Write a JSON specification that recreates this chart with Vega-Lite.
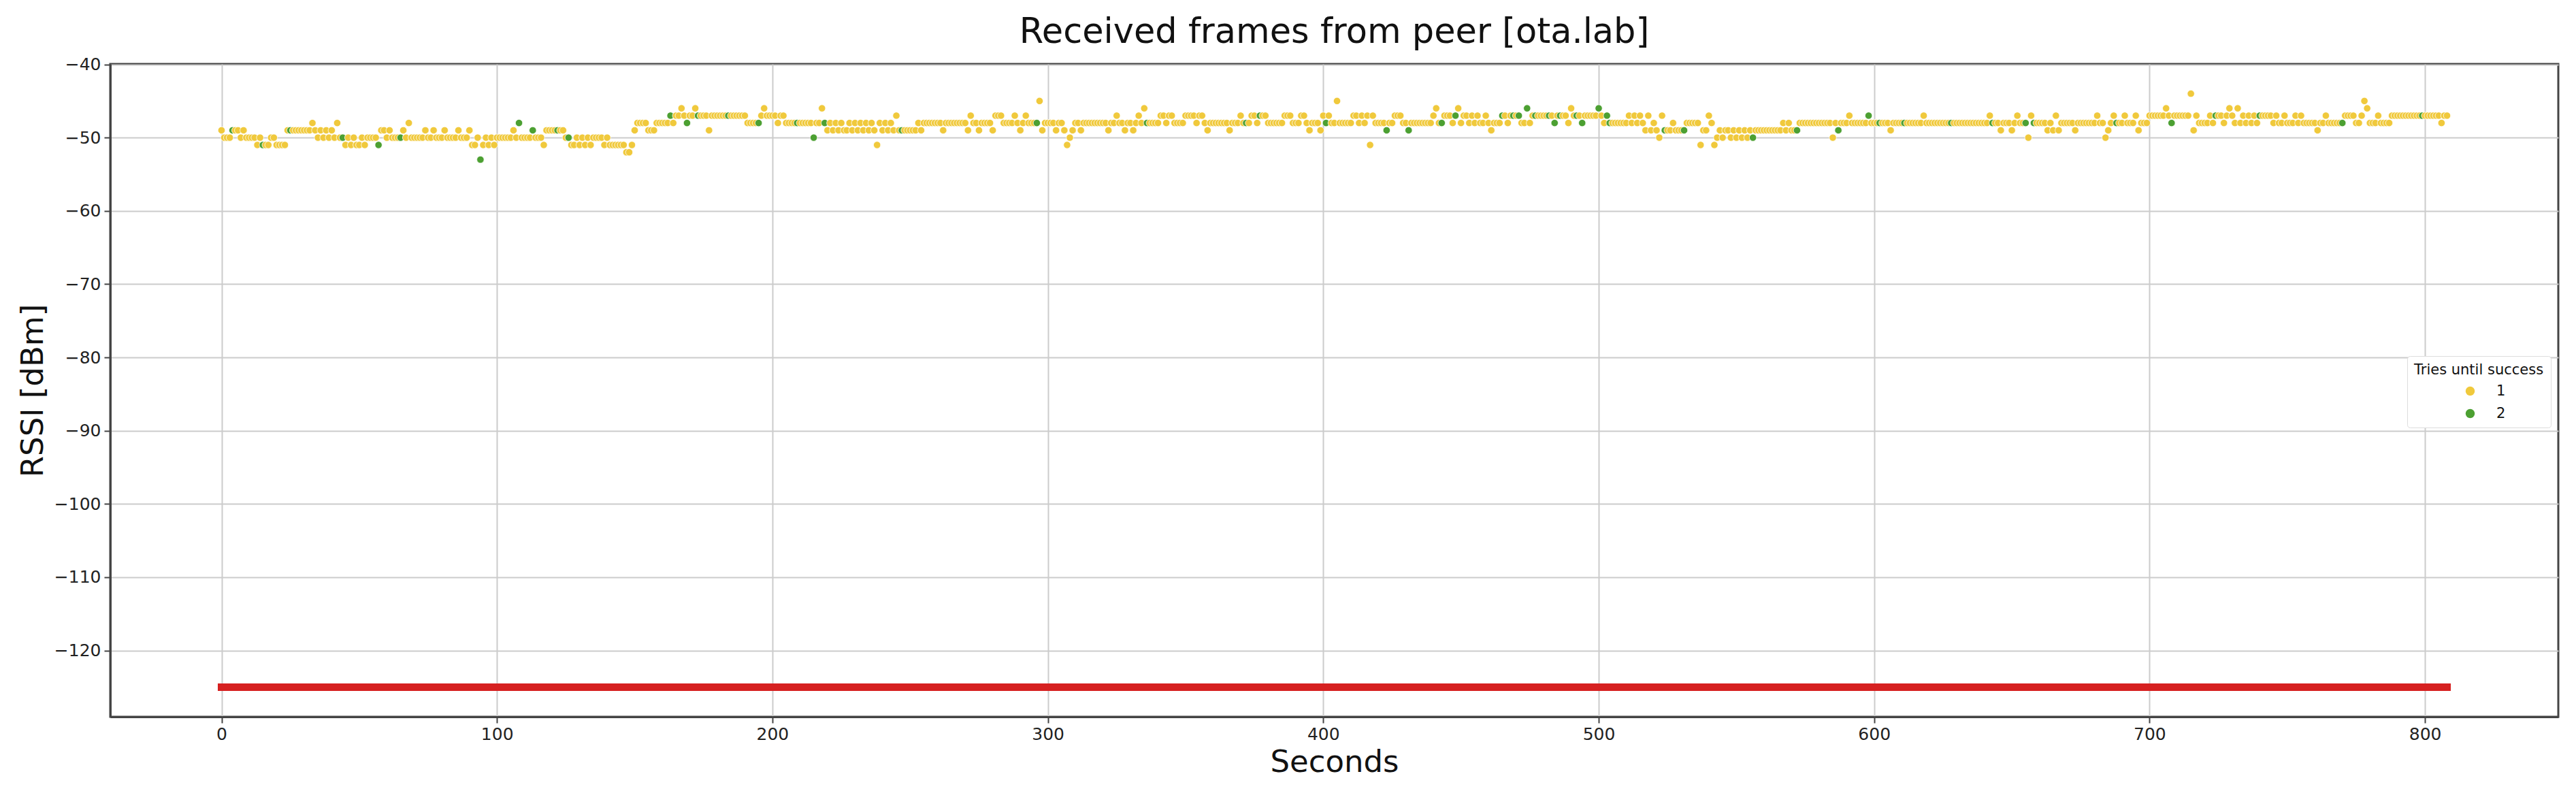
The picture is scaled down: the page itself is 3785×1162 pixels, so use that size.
{
"$schema":"https://vega.github.io/schema/vega-lite/v6.json",
"autosize":{"type":"none"},
"padding":{"left":162,"top":94,"right":26,"bottom":109},
"width":3597,"height":959,
"background":"white",
"config":{"font":"DejaVu Sans","view":{"stroke":"#444444","strokeWidth":3},
"axis":{"labelFont":"DejaVu Sans","titleFont":"DejaVu Sans","labelFontSize":25,"titleFontSize":45,"titleFontWeight":"normal","labelColor":"#222","titleColor":"#111","gridColor":"#cccccc","gridWidth":2,"domainColor":"#444","domainWidth":3,"tickColor":"#444","tickWidth":2,"tickSize":9}},
"title":{"text":"Received frames from peer [ota.lab]","fontSize":51,"fontWeight":"normal","font":"DejaVu Sans","color":"#111","anchor":"middle","frame":"group","baseline":"alphabetic","offset":-31},
"layer":[
{"data":{"values":[
{"t":0,"r":-49,"k":1},{"t":1,"r":-50,"k":1},{"t":2,"r":-50,"k":1},{"t":3,"r":-50,"k":1},{"t":4,"r":-49,"k":2},{"t":5,"r":-49,"k":1},{"t":6,"r":-49,"k":1},{"t":7,"r":-50,"k":1},{"t":8,"r":-49,"k":1},{"t":9,"r":-50,"k":1},
{"t":10,"r":-50,"k":1},{"t":11,"r":-50,"k":1},{"t":12,"r":-50,"k":1},{"t":13,"r":-51,"k":1},{"t":14,"r":-50,"k":1},{"t":15,"r":-51,"k":2},{"t":16,"r":-51,"k":1},{"t":17,"r":-51,"k":1},{"t":18,"r":-50,"k":1},{"t":19,"r":-50,"k":1},
{"t":20,"r":-51,"k":1},{"t":21,"r":-51,"k":1},{"t":22,"r":-51,"k":1},{"t":23,"r":-51,"k":1},{"t":24,"r":-49,"k":1},{"t":25,"r":-49,"k":2},{"t":26,"r":-49,"k":1},{"t":27,"r":-49,"k":1},{"t":28,"r":-49,"k":1},{"t":29,"r":-49,"k":1},
{"t":30,"r":-49,"k":1},{"t":31,"r":-49,"k":1},{"t":32,"r":-49,"k":1},{"t":33,"r":-48,"k":1},{"t":34,"r":-49,"k":1},{"t":35,"r":-50,"k":1},{"t":36,"r":-49,"k":1},{"t":37,"r":-50,"k":1},{"t":38,"r":-49,"k":1},{"t":39,"r":-50,"k":1},
{"t":40,"r":-49,"k":1},{"t":41,"r":-50,"k":1},{"t":42,"r":-48,"k":1},{"t":43,"r":-50,"k":1},{"t":44,"r":-50,"k":2},{"t":45,"r":-51,"k":1},{"t":46,"r":-50,"k":1},{"t":47,"r":-51,"k":1},{"t":48,"r":-50,"k":1},{"t":49,"r":-51,"k":1},
{"t":50,"r":-51,"k":1},{"t":51,"r":-50,"k":1},{"t":52,"r":-51,"k":1},{"t":53,"r":-50,"k":1},{"t":54,"r":-50,"k":1},{"t":55,"r":-50,"k":1},{"t":56,"r":-50,"k":1},{"t":57,"r":-51,"k":2},{"t":58,"r":-49,"k":1},{"t":59,"r":-49,"k":1},
{"t":60,"r":-50,"k":1},{"t":61,"r":-49,"k":1},{"t":62,"r":-50,"k":1},{"t":63,"r":-50,"k":1},{"t":64,"r":-50,"k":1},{"t":65,"r":-50,"k":2},{"t":66,"r":-49,"k":1},{"t":67,"r":-50,"k":1},{"t":68,"r":-48,"k":1},{"t":69,"r":-50,"k":1},
{"t":70,"r":-50,"k":1},{"t":71,"r":-50,"k":1},{"t":72,"r":-50,"k":1},{"t":73,"r":-50,"k":1},{"t":74,"r":-49,"k":1},{"t":75,"r":-50,"k":1},{"t":76,"r":-50,"k":1},{"t":77,"r":-49,"k":1},{"t":78,"r":-50,"k":1},{"t":79,"r":-50,"k":1},
{"t":80,"r":-50,"k":1},{"t":81,"r":-49,"k":1},{"t":82,"r":-50,"k":1},{"t":83,"r":-50,"k":1},{"t":84,"r":-50,"k":1},{"t":85,"r":-50,"k":1},{"t":86,"r":-49,"k":1},{"t":87,"r":-50,"k":1},{"t":88,"r":-50,"k":1},{"t":89,"r":-50,"k":1},
{"t":90,"r":-49,"k":1},{"t":91,"r":-51,"k":1},{"t":92,"r":-51,"k":1},{"t":93,"r":-50,"k":1},{"t":94,"r":-53,"k":2},{"t":95,"r":-51,"k":1},{"t":96,"r":-50,"k":1},{"t":97,"r":-51,"k":1},{"t":98,"r":-50,"k":1},{"t":99,"r":-51,"k":1},
{"t":100,"r":-50,"k":1},{"t":101,"r":-50,"k":1},{"t":102,"r":-50,"k":1},{"t":103,"r":-50,"k":1},{"t":104,"r":-50,"k":1},{"t":105,"r":-50,"k":1},{"t":106,"r":-49,"k":1},{"t":107,"r":-50,"k":1},{"t":108,"r":-48,"k":2},{"t":109,"r":-50,"k":1},
{"t":110,"r":-50,"k":1},{"t":111,"r":-50,"k":1},{"t":112,"r":-50,"k":1},{"t":113,"r":-49,"k":2},{"t":114,"r":-50,"k":1},{"t":115,"r":-50,"k":1},{"t":116,"r":-50,"k":1},{"t":117,"r":-51,"k":1},{"t":118,"r":-49,"k":1},{"t":119,"r":-49,"k":1},
{"t":120,"r":-49,"k":1},{"t":121,"r":-49,"k":1},{"t":122,"r":-49,"k":2},{"t":123,"r":-49,"k":1},{"t":124,"r":-49,"k":1},{"t":125,"r":-50,"k":1},{"t":126,"r":-50,"k":2},{"t":127,"r":-51,"k":1},{"t":128,"r":-51,"k":1},{"t":129,"r":-50,"k":1},
{"t":130,"r":-51,"k":1},{"t":131,"r":-50,"k":1},{"t":132,"r":-51,"k":1},{"t":133,"r":-50,"k":1},{"t":134,"r":-51,"k":1},{"t":135,"r":-50,"k":1},{"t":136,"r":-50,"k":1},{"t":137,"r":-50,"k":1},{"t":138,"r":-50,"k":1},{"t":139,"r":-51,"k":1},
{"t":140,"r":-50,"k":1},{"t":141,"r":-51,"k":1},{"t":142,"r":-51,"k":1},{"t":143,"r":-51,"k":1},{"t":144,"r":-51,"k":1},{"t":145,"r":-51,"k":1},{"t":146,"r":-51,"k":1},{"t":147,"r":-52,"k":1},{"t":148,"r":-52,"k":1},{"t":149,"r":-51,"k":1},
{"t":150,"r":-49,"k":1},{"t":151,"r":-48,"k":1},{"t":152,"r":-48,"k":1},{"t":153,"r":-48,"k":1},{"t":154,"r":-48,"k":1},{"t":155,"r":-49,"k":1},{"t":156,"r":-49,"k":1},{"t":157,"r":-49,"k":1},{"t":158,"r":-48,"k":1},{"t":159,"r":-48,"k":1},
{"t":160,"r":-48,"k":1},{"t":161,"r":-48,"k":1},{"t":162,"r":-48,"k":1},{"t":163,"r":-47,"k":2},{"t":164,"r":-48,"k":1},{"t":165,"r":-47,"k":1},{"t":166,"r":-47,"k":1},{"t":167,"r":-46,"k":1},{"t":168,"r":-47,"k":1},{"t":169,"r":-48,"k":2},
{"t":170,"r":-47,"k":1},{"t":171,"r":-47,"k":1},{"t":172,"r":-46,"k":1},{"t":173,"r":-47,"k":2},{"t":174,"r":-47,"k":1},{"t":175,"r":-47,"k":1},{"t":176,"r":-47,"k":1},{"t":177,"r":-49,"k":1},{"t":178,"r":-47,"k":1},{"t":179,"r":-47,"k":1},
{"t":180,"r":-47,"k":1},{"t":181,"r":-47,"k":1},{"t":182,"r":-47,"k":1},{"t":183,"r":-47,"k":1},{"t":184,"r":-47,"k":2},{"t":185,"r":-47,"k":1},{"t":186,"r":-47,"k":1},{"t":187,"r":-47,"k":1},{"t":188,"r":-47,"k":1},{"t":189,"r":-47,"k":1},
{"t":190,"r":-47,"k":1},{"t":191,"r":-48,"k":1},{"t":192,"r":-48,"k":1},{"t":193,"r":-48,"k":1},{"t":194,"r":-48,"k":1},{"t":195,"r":-48,"k":2},{"t":196,"r":-47,"k":1},{"t":197,"r":-46,"k":1},{"t":198,"r":-47,"k":1},{"t":199,"r":-47,"k":1},
{"t":200,"r":-47,"k":1},{"t":201,"r":-47,"k":1},{"t":202,"r":-48,"k":1},{"t":203,"r":-47,"k":1},{"t":204,"r":-47,"k":1},{"t":205,"r":-48,"k":1},{"t":206,"r":-48,"k":1},{"t":207,"r":-48,"k":1},{"t":208,"r":-48,"k":1},{"t":209,"r":-48,"k":2},
{"t":210,"r":-48,"k":1},{"t":211,"r":-48,"k":1},{"t":212,"r":-48,"k":1},{"t":213,"r":-48,"k":1},{"t":214,"r":-48,"k":1},{"t":215,"r":-50,"k":2},{"t":216,"r":-48,"k":1},{"t":217,"r":-48,"k":1},{"t":218,"r":-46,"k":1},{"t":219,"r":-48,"k":2},
{"t":220,"r":-49,"k":1},{"t":221,"r":-48,"k":1},{"t":222,"r":-49,"k":1},{"t":223,"r":-48,"k":1},{"t":224,"r":-49,"k":1},{"t":225,"r":-48,"k":1},{"t":226,"r":-49,"k":1},{"t":227,"r":-49,"k":1},{"t":228,"r":-48,"k":1},{"t":229,"r":-49,"k":1},
{"t":230,"r":-48,"k":1},{"t":231,"r":-49,"k":1},{"t":232,"r":-48,"k":1},{"t":233,"r":-49,"k":1},{"t":234,"r":-48,"k":1},{"t":235,"r":-49,"k":1},{"t":236,"r":-48,"k":1},{"t":237,"r":-49,"k":1},{"t":238,"r":-51,"k":1},{"t":239,"r":-48,"k":1},
{"t":240,"r":-49,"k":1},{"t":241,"r":-48,"k":1},{"t":242,"r":-49,"k":1},{"t":243,"r":-48,"k":1},{"t":244,"r":-49,"k":1},{"t":245,"r":-47,"k":1},{"t":246,"r":-49,"k":1},{"t":247,"r":-49,"k":2},{"t":248,"r":-49,"k":1},{"t":249,"r":-49,"k":1},
{"t":250,"r":-49,"k":1},{"t":251,"r":-49,"k":1},{"t":252,"r":-49,"k":1},{"t":253,"r":-48,"k":1},{"t":254,"r":-49,"k":1},{"t":255,"r":-48,"k":1},{"t":256,"r":-48,"k":1},{"t":257,"r":-48,"k":1},{"t":258,"r":-48,"k":1},{"t":259,"r":-48,"k":1},
{"t":260,"r":-48,"k":1},{"t":261,"r":-48,"k":1},{"t":262,"r":-49,"k":1},{"t":263,"r":-48,"k":1},{"t":264,"r":-48,"k":1},{"t":265,"r":-48,"k":1},{"t":266,"r":-48,"k":1},{"t":267,"r":-48,"k":1},{"t":268,"r":-48,"k":1},{"t":269,"r":-48,"k":1},
{"t":270,"r":-48,"k":1},{"t":271,"r":-49,"k":1},{"t":272,"r":-47,"k":1},{"t":273,"r":-48,"k":1},{"t":274,"r":-48,"k":1},{"t":275,"r":-49,"k":1},{"t":276,"r":-48,"k":1},{"t":277,"r":-48,"k":1},{"t":278,"r":-48,"k":1},{"t":279,"r":-48,"k":1},
{"t":280,"r":-49,"k":1},{"t":281,"r":-47,"k":1},{"t":282,"r":-47,"k":1},{"t":283,"r":-47,"k":1},{"t":284,"r":-48,"k":1},{"t":285,"r":-48,"k":1},{"t":286,"r":-48,"k":1},{"t":287,"r":-48,"k":1},{"t":288,"r":-47,"k":1},{"t":289,"r":-48,"k":1},
{"t":290,"r":-49,"k":1},{"t":291,"r":-48,"k":1},{"t":292,"r":-47,"k":1},{"t":293,"r":-48,"k":1},{"t":294,"r":-48,"k":1},{"t":295,"r":-48,"k":1},{"t":296,"r":-48,"k":2},{"t":297,"r":-45,"k":1},{"t":298,"r":-49,"k":1},{"t":299,"r":-48,"k":1},
{"t":300,"r":-48,"k":1},{"t":301,"r":-48,"k":1},{"t":302,"r":-48,"k":1},{"t":303,"r":-49,"k":1},{"t":304,"r":-48,"k":1},{"t":305,"r":-48,"k":1},{"t":306,"r":-49,"k":1},{"t":307,"r":-51,"k":1},{"t":308,"r":-50,"k":1},{"t":309,"r":-49,"k":1},
{"t":310,"r":-48,"k":1},{"t":311,"r":-48,"k":1},{"t":312,"r":-49,"k":1},{"t":313,"r":-48,"k":1},{"t":314,"r":-48,"k":1},{"t":315,"r":-48,"k":1},{"t":316,"r":-48,"k":1},{"t":317,"r":-48,"k":1},{"t":318,"r":-48,"k":1},{"t":319,"r":-48,"k":1},
{"t":320,"r":-48,"k":1},{"t":321,"r":-48,"k":1},{"t":322,"r":-49,"k":1},{"t":323,"r":-48,"k":1},{"t":324,"r":-48,"k":1},{"t":325,"r":-47,"k":1},{"t":326,"r":-48,"k":1},{"t":327,"r":-48,"k":1},{"t":328,"r":-49,"k":1},{"t":329,"r":-48,"k":1},
{"t":330,"r":-48,"k":1},{"t":331,"r":-49,"k":1},{"t":332,"r":-48,"k":1},{"t":333,"r":-47,"k":1},{"t":334,"r":-48,"k":1},{"t":335,"r":-46,"k":1},{"t":336,"r":-48,"k":2},{"t":337,"r":-48,"k":1},{"t":338,"r":-48,"k":1},{"t":339,"r":-48,"k":1},
{"t":340,"r":-48,"k":1},{"t":341,"r":-47,"k":1},{"t":342,"r":-47,"k":1},{"t":343,"r":-48,"k":1},{"t":344,"r":-47,"k":1},{"t":345,"r":-47,"k":1},{"t":346,"r":-48,"k":1},{"t":347,"r":-48,"k":1},{"t":348,"r":-48,"k":1},{"t":349,"r":-48,"k":1},
{"t":350,"r":-47,"k":1},{"t":351,"r":-47,"k":1},{"t":352,"r":-47,"k":1},{"t":353,"r":-47,"k":1},{"t":354,"r":-48,"k":1},{"t":355,"r":-47,"k":1},{"t":356,"r":-47,"k":1},{"t":357,"r":-48,"k":1},{"t":358,"r":-49,"k":1},{"t":359,"r":-48,"k":1},
{"t":360,"r":-48,"k":1},{"t":361,"r":-48,"k":1},{"t":362,"r":-48,"k":1},{"t":363,"r":-48,"k":1},{"t":364,"r":-48,"k":1},{"t":365,"r":-48,"k":1},{"t":366,"r":-49,"k":1},{"t":367,"r":-48,"k":1},{"t":368,"r":-48,"k":1},{"t":369,"r":-48,"k":1},
{"t":370,"r":-47,"k":1},{"t":371,"r":-48,"k":1},{"t":372,"r":-48,"k":2},{"t":373,"r":-48,"k":1},{"t":374,"r":-47,"k":1},{"t":375,"r":-47,"k":1},{"t":376,"r":-48,"k":1},{"t":377,"r":-47,"k":2},{"t":378,"r":-47,"k":1},{"t":379,"r":-47,"k":1},
{"t":380,"r":-48,"k":1},{"t":381,"r":-48,"k":1},{"t":382,"r":-48,"k":1},{"t":383,"r":-48,"k":1},{"t":384,"r":-48,"k":1},{"t":385,"r":-48,"k":1},{"t":386,"r":-47,"k":1},{"t":387,"r":-47,"k":1},{"t":388,"r":-47,"k":1},{"t":389,"r":-48,"k":1},
{"t":390,"r":-48,"k":1},{"t":391,"r":-48,"k":1},{"t":392,"r":-47,"k":1},{"t":393,"r":-47,"k":1},{"t":394,"r":-48,"k":1},{"t":395,"r":-49,"k":1},{"t":396,"r":-48,"k":1},{"t":397,"r":-48,"k":1},{"t":398,"r":-48,"k":1},{"t":399,"r":-49,"k":1},
{"t":400,"r":-47,"k":1},{"t":401,"r":-48,"k":2},{"t":402,"r":-47,"k":1},{"t":403,"r":-48,"k":1},{"t":404,"r":-48,"k":1},{"t":405,"r":-45,"k":1},{"t":406,"r":-48,"k":1},{"t":407,"r":-48,"k":1},{"t":408,"r":-48,"k":1},{"t":409,"r":-48,"k":1},
{"t":410,"r":-48,"k":1},{"t":411,"r":-47,"k":1},{"t":412,"r":-47,"k":1},{"t":413,"r":-48,"k":1},{"t":414,"r":-47,"k":1},{"t":415,"r":-48,"k":1},{"t":416,"r":-47,"k":1},{"t":417,"r":-51,"k":1},{"t":418,"r":-47,"k":1},{"t":419,"r":-48,"k":1},
{"t":420,"r":-48,"k":1},{"t":421,"r":-48,"k":1},{"t":422,"r":-48,"k":1},{"t":423,"r":-49,"k":2},{"t":424,"r":-48,"k":1},{"t":425,"r":-48,"k":1},{"t":426,"r":-47,"k":1},{"t":427,"r":-47,"k":1},{"t":428,"r":-47,"k":1},{"t":429,"r":-48,"k":1},
{"t":430,"r":-48,"k":1},{"t":431,"r":-49,"k":2},{"t":432,"r":-48,"k":1},{"t":433,"r":-48,"k":1},{"t":434,"r":-48,"k":1},{"t":435,"r":-48,"k":1},{"t":436,"r":-48,"k":1},{"t":437,"r":-48,"k":1},{"t":438,"r":-48,"k":1},{"t":439,"r":-48,"k":1},
{"t":440,"r":-47,"k":1},{"t":441,"r":-46,"k":1},{"t":442,"r":-48,"k":1},{"t":443,"r":-48,"k":2},{"t":444,"r":-47,"k":1},{"t":445,"r":-47,"k":1},{"t":446,"r":-47,"k":1},{"t":447,"r":-48,"k":1},{"t":448,"r":-47,"k":2},{"t":449,"r":-46,"k":1},
{"t":450,"r":-48,"k":1},{"t":451,"r":-47,"k":1},{"t":452,"r":-47,"k":1},{"t":453,"r":-48,"k":1},{"t":454,"r":-47,"k":1},{"t":455,"r":-48,"k":1},{"t":456,"r":-47,"k":1},{"t":457,"r":-48,"k":1},{"t":458,"r":-48,"k":1},{"t":459,"r":-47,"k":1},
{"t":460,"r":-48,"k":1},{"t":461,"r":-49,"k":1},{"t":462,"r":-48,"k":1},{"t":463,"r":-48,"k":1},{"t":464,"r":-48,"k":1},{"t":465,"r":-47,"k":2},{"t":466,"r":-47,"k":1},{"t":467,"r":-48,"k":1},{"t":468,"r":-47,"k":1},{"t":469,"r":-47,"k":2},
{"t":470,"r":-47,"k":1},{"t":471,"r":-47,"k":2},{"t":472,"r":-48,"k":1},{"t":473,"r":-48,"k":1},{"t":474,"r":-46,"k":2},{"t":475,"r":-48,"k":1},{"t":476,"r":-47,"k":1},{"t":477,"r":-47,"k":2},{"t":478,"r":-47,"k":1},{"t":479,"r":-47,"k":1},
{"t":480,"r":-47,"k":1},{"t":481,"r":-47,"k":1},{"t":482,"r":-47,"k":2},{"t":483,"r":-47,"k":1},{"t":484,"r":-48,"k":2},{"t":485,"r":-47,"k":1},{"t":486,"r":-47,"k":2},{"t":487,"r":-47,"k":1},{"t":488,"r":-47,"k":1},{"t":489,"r":-48,"k":1},
{"t":490,"r":-46,"k":1},{"t":491,"r":-47,"k":1},{"t":492,"r":-47,"k":2},{"t":493,"r":-47,"k":1},{"t":494,"r":-48,"k":2},{"t":495,"r":-47,"k":1},{"t":496,"r":-47,"k":1},{"t":497,"r":-47,"k":1},{"t":498,"r":-47,"k":1},{"t":499,"r":-47,"k":1},
{"t":500,"r":-46,"k":2},{"t":501,"r":-47,"k":1},{"t":502,"r":-48,"k":1},{"t":503,"r":-47,"k":2},{"t":504,"r":-48,"k":2},{"t":505,"r":-48,"k":1},{"t":506,"r":-48,"k":1},{"t":507,"r":-48,"k":1},{"t":508,"r":-48,"k":1},{"t":509,"r":-48,"k":1},
{"t":510,"r":-48,"k":1},{"t":511,"r":-47,"k":1},{"t":512,"r":-48,"k":1},{"t":513,"r":-47,"k":1},{"t":514,"r":-48,"k":1},{"t":515,"r":-47,"k":1},{"t":516,"r":-48,"k":1},{"t":517,"r":-49,"k":1},{"t":518,"r":-47,"k":1},{"t":519,"r":-49,"k":1},
{"t":520,"r":-48,"k":1},{"t":521,"r":-49,"k":1},{"t":522,"r":-50,"k":1},{"t":523,"r":-47,"k":1},{"t":524,"r":-49,"k":2},{"t":525,"r":-49,"k":1},{"t":526,"r":-49,"k":1},{"t":527,"r":-48,"k":1},{"t":528,"r":-49,"k":1},{"t":529,"r":-49,"k":1},
{"t":530,"r":-49,"k":1},{"t":531,"r":-49,"k":2},{"t":532,"r":-48,"k":1},{"t":533,"r":-48,"k":1},{"t":534,"r":-48,"k":1},{"t":535,"r":-48,"k":1},{"t":536,"r":-48,"k":1},{"t":537,"r":-51,"k":1},{"t":538,"r":-49,"k":1},{"t":539,"r":-49,"k":1},
{"t":540,"r":-47,"k":1},{"t":541,"r":-48,"k":1},{"t":542,"r":-51,"k":1},{"t":543,"r":-50,"k":1},{"t":544,"r":-49,"k":1},{"t":545,"r":-50,"k":1},{"t":546,"r":-49,"k":1},{"t":547,"r":-49,"k":1},{"t":548,"r":-50,"k":1},{"t":549,"r":-49,"k":1},
{"t":550,"r":-50,"k":1},{"t":551,"r":-49,"k":1},{"t":552,"r":-50,"k":1},{"t":553,"r":-49,"k":1},{"t":554,"r":-50,"k":1},{"t":555,"r":-49,"k":1},{"t":556,"r":-50,"k":2},{"t":557,"r":-49,"k":1},{"t":558,"r":-49,"k":1},{"t":559,"r":-49,"k":1},
{"t":560,"r":-49,"k":1},{"t":561,"r":-49,"k":1},{"t":562,"r":-49,"k":1},{"t":563,"r":-49,"k":1},{"t":564,"r":-49,"k":1},{"t":565,"r":-49,"k":1},{"t":566,"r":-49,"k":1},{"t":567,"r":-48,"k":1},{"t":568,"r":-49,"k":1},{"t":569,"r":-48,"k":1},
{"t":570,"r":-49,"k":1},{"t":571,"r":-49,"k":1},{"t":572,"r":-49,"k":2},{"t":573,"r":-48,"k":1},{"t":574,"r":-48,"k":1},{"t":575,"r":-48,"k":1},{"t":576,"r":-48,"k":1},{"t":577,"r":-48,"k":1},{"t":578,"r":-48,"k":1},{"t":579,"r":-48,"k":1},
{"t":580,"r":-48,"k":1},{"t":581,"r":-48,"k":1},{"t":582,"r":-48,"k":1},{"t":583,"r":-48,"k":1},{"t":584,"r":-48,"k":1},{"t":585,"r":-50,"k":1},{"t":586,"r":-48,"k":1},{"t":587,"r":-49,"k":2},{"t":588,"r":-48,"k":1},{"t":589,"r":-48,"k":1},
{"t":590,"r":-48,"k":1},{"t":591,"r":-47,"k":1},{"t":592,"r":-48,"k":1},{"t":593,"r":-48,"k":1},{"t":594,"r":-48,"k":1},{"t":595,"r":-48,"k":1},{"t":596,"r":-48,"k":1},{"t":597,"r":-48,"k":1},{"t":598,"r":-47,"k":2},{"t":599,"r":-48,"k":1},
{"t":600,"r":-48,"k":1},{"t":601,"r":-48,"k":1},{"t":602,"r":-48,"k":2},{"t":603,"r":-48,"k":1},{"t":604,"r":-48,"k":1},{"t":605,"r":-48,"k":1},{"t":606,"r":-49,"k":1},{"t":607,"r":-48,"k":1},{"t":608,"r":-48,"k":1},{"t":609,"r":-48,"k":1},
{"t":610,"r":-48,"k":1},{"t":611,"r":-48,"k":2},{"t":612,"r":-48,"k":1},{"t":613,"r":-48,"k":1},{"t":614,"r":-48,"k":1},{"t":615,"r":-48,"k":1},{"t":616,"r":-48,"k":1},{"t":617,"r":-48,"k":1},{"t":618,"r":-47,"k":1},{"t":619,"r":-48,"k":1},
{"t":620,"r":-48,"k":1},{"t":621,"r":-48,"k":1},{"t":622,"r":-48,"k":1},{"t":623,"r":-48,"k":1},{"t":624,"r":-48,"k":1},{"t":625,"r":-48,"k":1},{"t":626,"r":-48,"k":1},{"t":627,"r":-48,"k":1},{"t":628,"r":-48,"k":2},{"t":629,"r":-48,"k":1},
{"t":630,"r":-48,"k":1},{"t":631,"r":-48,"k":1},{"t":632,"r":-48,"k":1},{"t":633,"r":-48,"k":1},{"t":634,"r":-48,"k":1},{"t":635,"r":-48,"k":1},{"t":636,"r":-48,"k":1},{"t":637,"r":-48,"k":1},{"t":638,"r":-48,"k":1},{"t":639,"r":-48,"k":1},
{"t":640,"r":-48,"k":1},{"t":641,"r":-48,"k":1},{"t":642,"r":-47,"k":1},{"t":643,"r":-48,"k":2},{"t":644,"r":-48,"k":1},{"t":645,"r":-48,"k":1},{"t":646,"r":-49,"k":1},{"t":647,"r":-48,"k":1},{"t":648,"r":-48,"k":1},{"t":649,"r":-48,"k":1},
{"t":650,"r":-49,"k":1},{"t":651,"r":-48,"k":1},{"t":652,"r":-47,"k":1},{"t":653,"r":-48,"k":1},{"t":654,"r":-48,"k":1},{"t":655,"r":-48,"k":2},{"t":656,"r":-50,"k":1},{"t":657,"r":-47,"k":1},{"t":658,"r":-48,"k":2},{"t":659,"r":-48,"k":1},
{"t":660,"r":-48,"k":1},{"t":661,"r":-48,"k":1},{"t":662,"r":-48,"k":1},{"t":663,"r":-49,"k":1},{"t":664,"r":-48,"k":1},{"t":665,"r":-49,"k":1},{"t":666,"r":-47,"k":1},{"t":667,"r":-49,"k":1},{"t":668,"r":-48,"k":1},{"t":669,"r":-48,"k":1},
{"t":670,"r":-48,"k":1},{"t":671,"r":-48,"k":1},{"t":672,"r":-48,"k":1},{"t":673,"r":-49,"k":1},{"t":674,"r":-48,"k":1},{"t":675,"r":-48,"k":1},{"t":676,"r":-48,"k":1},{"t":677,"r":-48,"k":1},{"t":678,"r":-48,"k":1},{"t":679,"r":-48,"k":1},
{"t":680,"r":-48,"k":1},{"t":681,"r":-47,"k":1},{"t":682,"r":-48,"k":1},{"t":683,"r":-48,"k":1},{"t":684,"r":-50,"k":1},{"t":685,"r":-49,"k":1},{"t":686,"r":-48,"k":1},{"t":687,"r":-47,"k":1},{"t":688,"r":-48,"k":2},{"t":689,"r":-48,"k":1},
{"t":690,"r":-48,"k":1},{"t":691,"r":-47,"k":1},{"t":692,"r":-48,"k":1},{"t":693,"r":-48,"k":1},{"t":694,"r":-48,"k":1},{"t":695,"r":-47,"k":1},{"t":696,"r":-49,"k":1},{"t":697,"r":-48,"k":1},{"t":698,"r":-48,"k":1},{"t":699,"r":-48,"k":1},
{"t":700,"r":-47,"k":1},{"t":701,"r":-47,"k":1},{"t":702,"r":-47,"k":1},{"t":703,"r":-47,"k":1},{"t":704,"r":-47,"k":1},{"t":705,"r":-47,"k":1},{"t":706,"r":-46,"k":1},{"t":707,"r":-47,"k":1},{"t":708,"r":-48,"k":2},{"t":709,"r":-47,"k":1},
{"t":710,"r":-47,"k":1},{"t":711,"r":-47,"k":1},{"t":712,"r":-47,"k":1},{"t":713,"r":-47,"k":1},{"t":714,"r":-47,"k":1},{"t":715,"r":-44,"k":1},{"t":716,"r":-49,"k":1},{"t":717,"r":-47,"k":1},{"t":718,"r":-48,"k":1},{"t":719,"r":-48,"k":1},
{"t":720,"r":-48,"k":1},{"t":721,"r":-48,"k":1},{"t":722,"r":-47,"k":1},{"t":723,"r":-48,"k":1},{"t":724,"r":-47,"k":2},{"t":725,"r":-47,"k":1},{"t":726,"r":-47,"k":1},{"t":727,"r":-48,"k":1},{"t":728,"r":-47,"k":1},{"t":729,"r":-46,"k":1},
{"t":730,"r":-47,"k":1},{"t":731,"r":-48,"k":1},{"t":732,"r":-46,"k":1},{"t":733,"r":-48,"k":1},{"t":734,"r":-47,"k":1},{"t":735,"r":-48,"k":1},{"t":736,"r":-47,"k":1},{"t":737,"r":-48,"k":1},{"t":738,"r":-47,"k":1},{"t":739,"r":-48,"k":1},
{"t":740,"r":-47,"k":2},{"t":741,"r":-47,"k":1},{"t":742,"r":-47,"k":1},{"t":743,"r":-47,"k":1},{"t":744,"r":-47,"k":1},{"t":745,"r":-48,"k":1},{"t":746,"r":-47,"k":1},{"t":747,"r":-48,"k":1},{"t":748,"r":-48,"k":1},{"t":749,"r":-47,"k":1},
{"t":750,"r":-48,"k":1},{"t":751,"r":-48,"k":1},{"t":752,"r":-48,"k":1},{"t":753,"r":-47,"k":1},{"t":754,"r":-48,"k":1},{"t":755,"r":-47,"k":1},{"t":756,"r":-48,"k":1},{"t":757,"r":-48,"k":1},{"t":758,"r":-48,"k":1},{"t":759,"r":-48,"k":1},
{"t":760,"r":-48,"k":1},{"t":761,"r":-49,"k":1},{"t":762,"r":-48,"k":1},{"t":763,"r":-48,"k":1},{"t":764,"r":-47,"k":1},{"t":765,"r":-48,"k":1},{"t":766,"r":-48,"k":1},{"t":767,"r":-48,"k":1},{"t":768,"r":-48,"k":1},{"t":769,"r":-48,"k":1},
{"t":770,"r":-48,"k":2},{"t":771,"r":-47,"k":1},{"t":772,"r":-47,"k":1},{"t":773,"r":-47,"k":1},{"t":774,"r":-47,"k":1},{"t":775,"r":-48,"k":1},{"t":776,"r":-48,"k":1},{"t":777,"r":-47,"k":1},{"t":778,"r":-45,"k":1},{"t":779,"r":-46,"k":1},
{"t":780,"r":-48,"k":1},{"t":781,"r":-48,"k":1},{"t":782,"r":-48,"k":1},{"t":783,"r":-47,"k":1},{"t":784,"r":-48,"k":1},{"t":785,"r":-48,"k":1},{"t":786,"r":-48,"k":1},{"t":787,"r":-48,"k":1},{"t":788,"r":-47,"k":1},{"t":789,"r":-47,"k":1},
{"t":790,"r":-47,"k":1},{"t":791,"r":-47,"k":1},{"t":792,"r":-47,"k":1},{"t":793,"r":-47,"k":1},{"t":794,"r":-47,"k":1},{"t":795,"r":-47,"k":1},{"t":796,"r":-47,"k":1},{"t":797,"r":-47,"k":1},{"t":798,"r":-47,"k":1},{"t":799,"r":-47,"k":2},
{"t":800,"r":-47,"k":1},{"t":801,"r":-47,"k":1},{"t":802,"r":-47,"k":1},{"t":803,"r":-47,"k":1},{"t":804,"r":-47,"k":1},{"t":805,"r":-47,"k":1},{"t":806,"r":-48,"k":1},{"t":807,"r":-47,"k":1},{"t":808,"r":-47,"k":1}
]},
"mark":{"type":"point","filled":true,"shape":"circle","size":110,"opacity":1,"stroke":"white","strokeWidth":0.8},
"encoding":{
"x":{"field":"t","type":"quantitative","scale":{"domain":[-40.4,848.4],"nice":false,"zero":false},"axis":{"title":"Seconds","values":[0,100,200,300,400,500,600,700,800],"labelPadding":4,"titlePadding":6,"grid":true}},
"y":{"field":"r","type":"quantitative","scale":{"domain":[-129.05,-39.95],"nice":false,"zero":false},"axis":{"title":"RSSI [dBm]","values":[-120,-110,-100,-90,-80,-70,-60,-50,-40],"labelPadding":5,"titlePadding":8,"grid":true}},
"color":{"field":"k","type":"nominal","scale":{"domain":[1,2],"range":["#F0C93C","#4CA032"]},
"legend":{"title":"Tries until success","orient":"none","legendX":3375,"legendY":429,"padding":10,"strokeColor":"#dddddd","fillColor":"white","cornerRadius":4,"titleFontSize":21,"titleLimit":500,"titleFontWeight":"normal","titleColor":"#111","titleFont":"DejaVu Sans","labelFont":"DejaVu Sans","labelFontSize":21,"labelColor":"#111","symbolSize":180,"symbolType":"circle","symbolOffset":72,"labelOffset":28,"rowPadding":11,"titlePadding":10,"symbolStrokeWidth":0}}
}},
{"data":{"values":[{"t":0,"r":-125},{"t":808,"r":-125}]},
"mark":{"type":"line","color":"#D62020","strokeWidth":11,"strokeCap":"square"},
"encoding":{"x":{"field":"t","type":"quantitative"},"y":{"field":"r","type":"quantitative"}}}
]
}
